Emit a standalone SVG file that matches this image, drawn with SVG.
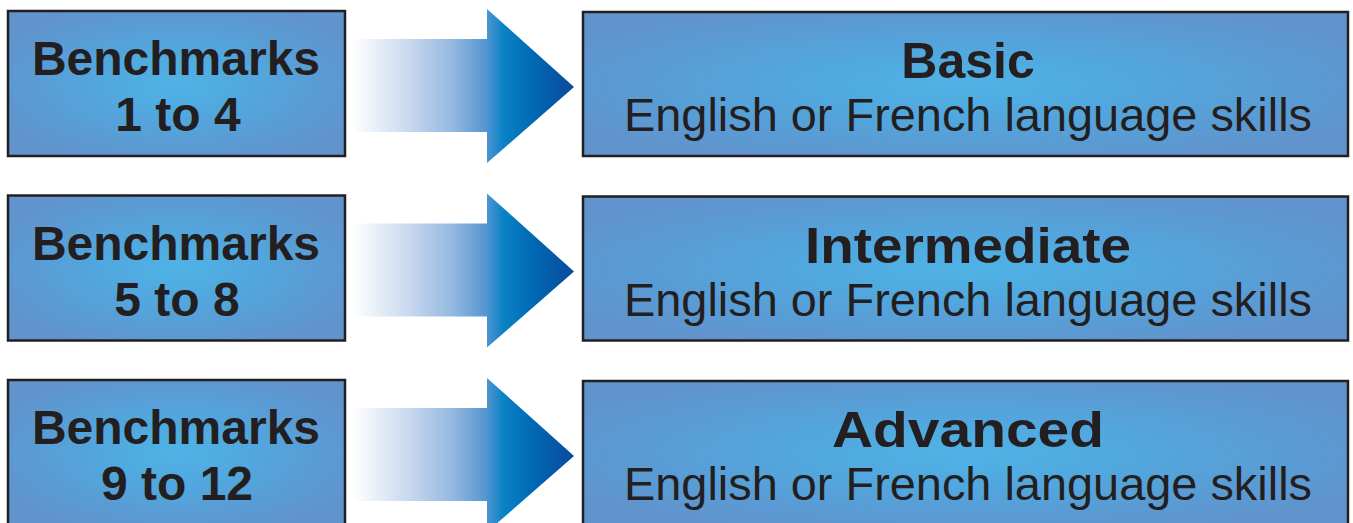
<svg xmlns="http://www.w3.org/2000/svg" width="1353" height="523" viewBox="0 0 1353 523">
<defs>
<radialGradient id="boxfill" cx="0.5" cy="0.5" r="0.6">
<stop offset="0" stop-color="#4fb3e6"/>
<stop offset="0.35" stop-color="#51a8df"/>
<stop offset="0.75" stop-color="#5b9ad3"/>
<stop offset="1" stop-color="#6193cc"/>
</radialGradient>
<linearGradient id="arrowfill" x1="0" y1="0" x2="1" y2="0">
<stop offset="0" stop-color="#ffffff"/>
<stop offset="0.25" stop-color="#c9d9ef"/>
<stop offset="0.45" stop-color="#94b8e0"/>
<stop offset="0.6" stop-color="#5596d1"/>
<stop offset="0.68" stop-color="#0a82c6"/>
<stop offset="0.82" stop-color="#0068b3"/>
<stop offset="1" stop-color="#0b4a9c"/>
</linearGradient>
<polygon id="arrow" points="353,39 487,39 487,9 574,87 487,163 487,132 353,132"/>
</defs>
<style>
.box{fill:url(#boxfill);stroke:#231f20;stroke-width:2.5}
.b{font-family:"Liberation Sans",Arial,sans-serif;font-weight:bold;fill:#231f20;text-anchor:middle}
.r{font-family:"Liberation Sans",Arial,sans-serif;fill:#231f20;text-anchor:middle}
.arr{fill:url(#arrowfill)}
</style>
<g id="connectors">
<use href="#arrow" class="arr"/>
<use href="#arrow" class="arr" y="184.5"/>
<use href="#arrow" class="arr" y="369"/>
</g>
<g id="bench1">
<rect class="box" x="8" y="11" width="337" height="145"/>
<text class="b" x="176" y="75" font-size="48">Benchmarks</text>
<text class="b" x="178" y="131" font-size="48">1 to 4</text>
</g>
<g id="bench2">
<rect class="box" x="8" y="195.5" width="337" height="145"/>
<text class="b" x="176" y="259.5" font-size="48">Benchmarks</text>
<text class="b" x="177" y="315.5" font-size="48">5 to 8</text>
</g>
<g id="bench3">
<rect class="box" x="8" y="380" width="337" height="145"/>
<text class="b" x="176" y="444" font-size="48">Benchmarks</text>
<text class="b" x="177" y="500" font-size="48">9 to 12</text>
</g>
<g id="basic">
<rect class="box" x="583" y="12" width="765" height="144"/>
<text class="b" x="968" y="78" font-size="50">Basic</text>
<text class="r" x="968" y="131" font-size="47" textLength="688" lengthAdjust="spacingAndGlyphs">English or French language skills</text>
</g>
<g id="intermediate">
<rect class="box" x="583" y="196.5" width="765" height="144"/>
<text class="b" x="968" y="262.5" font-size="50" textLength="326" lengthAdjust="spacingAndGlyphs">Intermediate</text>
<text class="r" x="968" y="315.5" font-size="47" textLength="688" lengthAdjust="spacingAndGlyphs">English or French language skills</text>
</g>
<g id="advanced">
<rect class="box" x="583" y="381" width="765" height="144"/>
<text class="b" x="968" y="447" font-size="50" textLength="272" lengthAdjust="spacingAndGlyphs">Advanced</text>
<text class="r" x="968" y="500" font-size="47" textLength="688" lengthAdjust="spacingAndGlyphs">English or French language skills</text>
</g>
</svg>
